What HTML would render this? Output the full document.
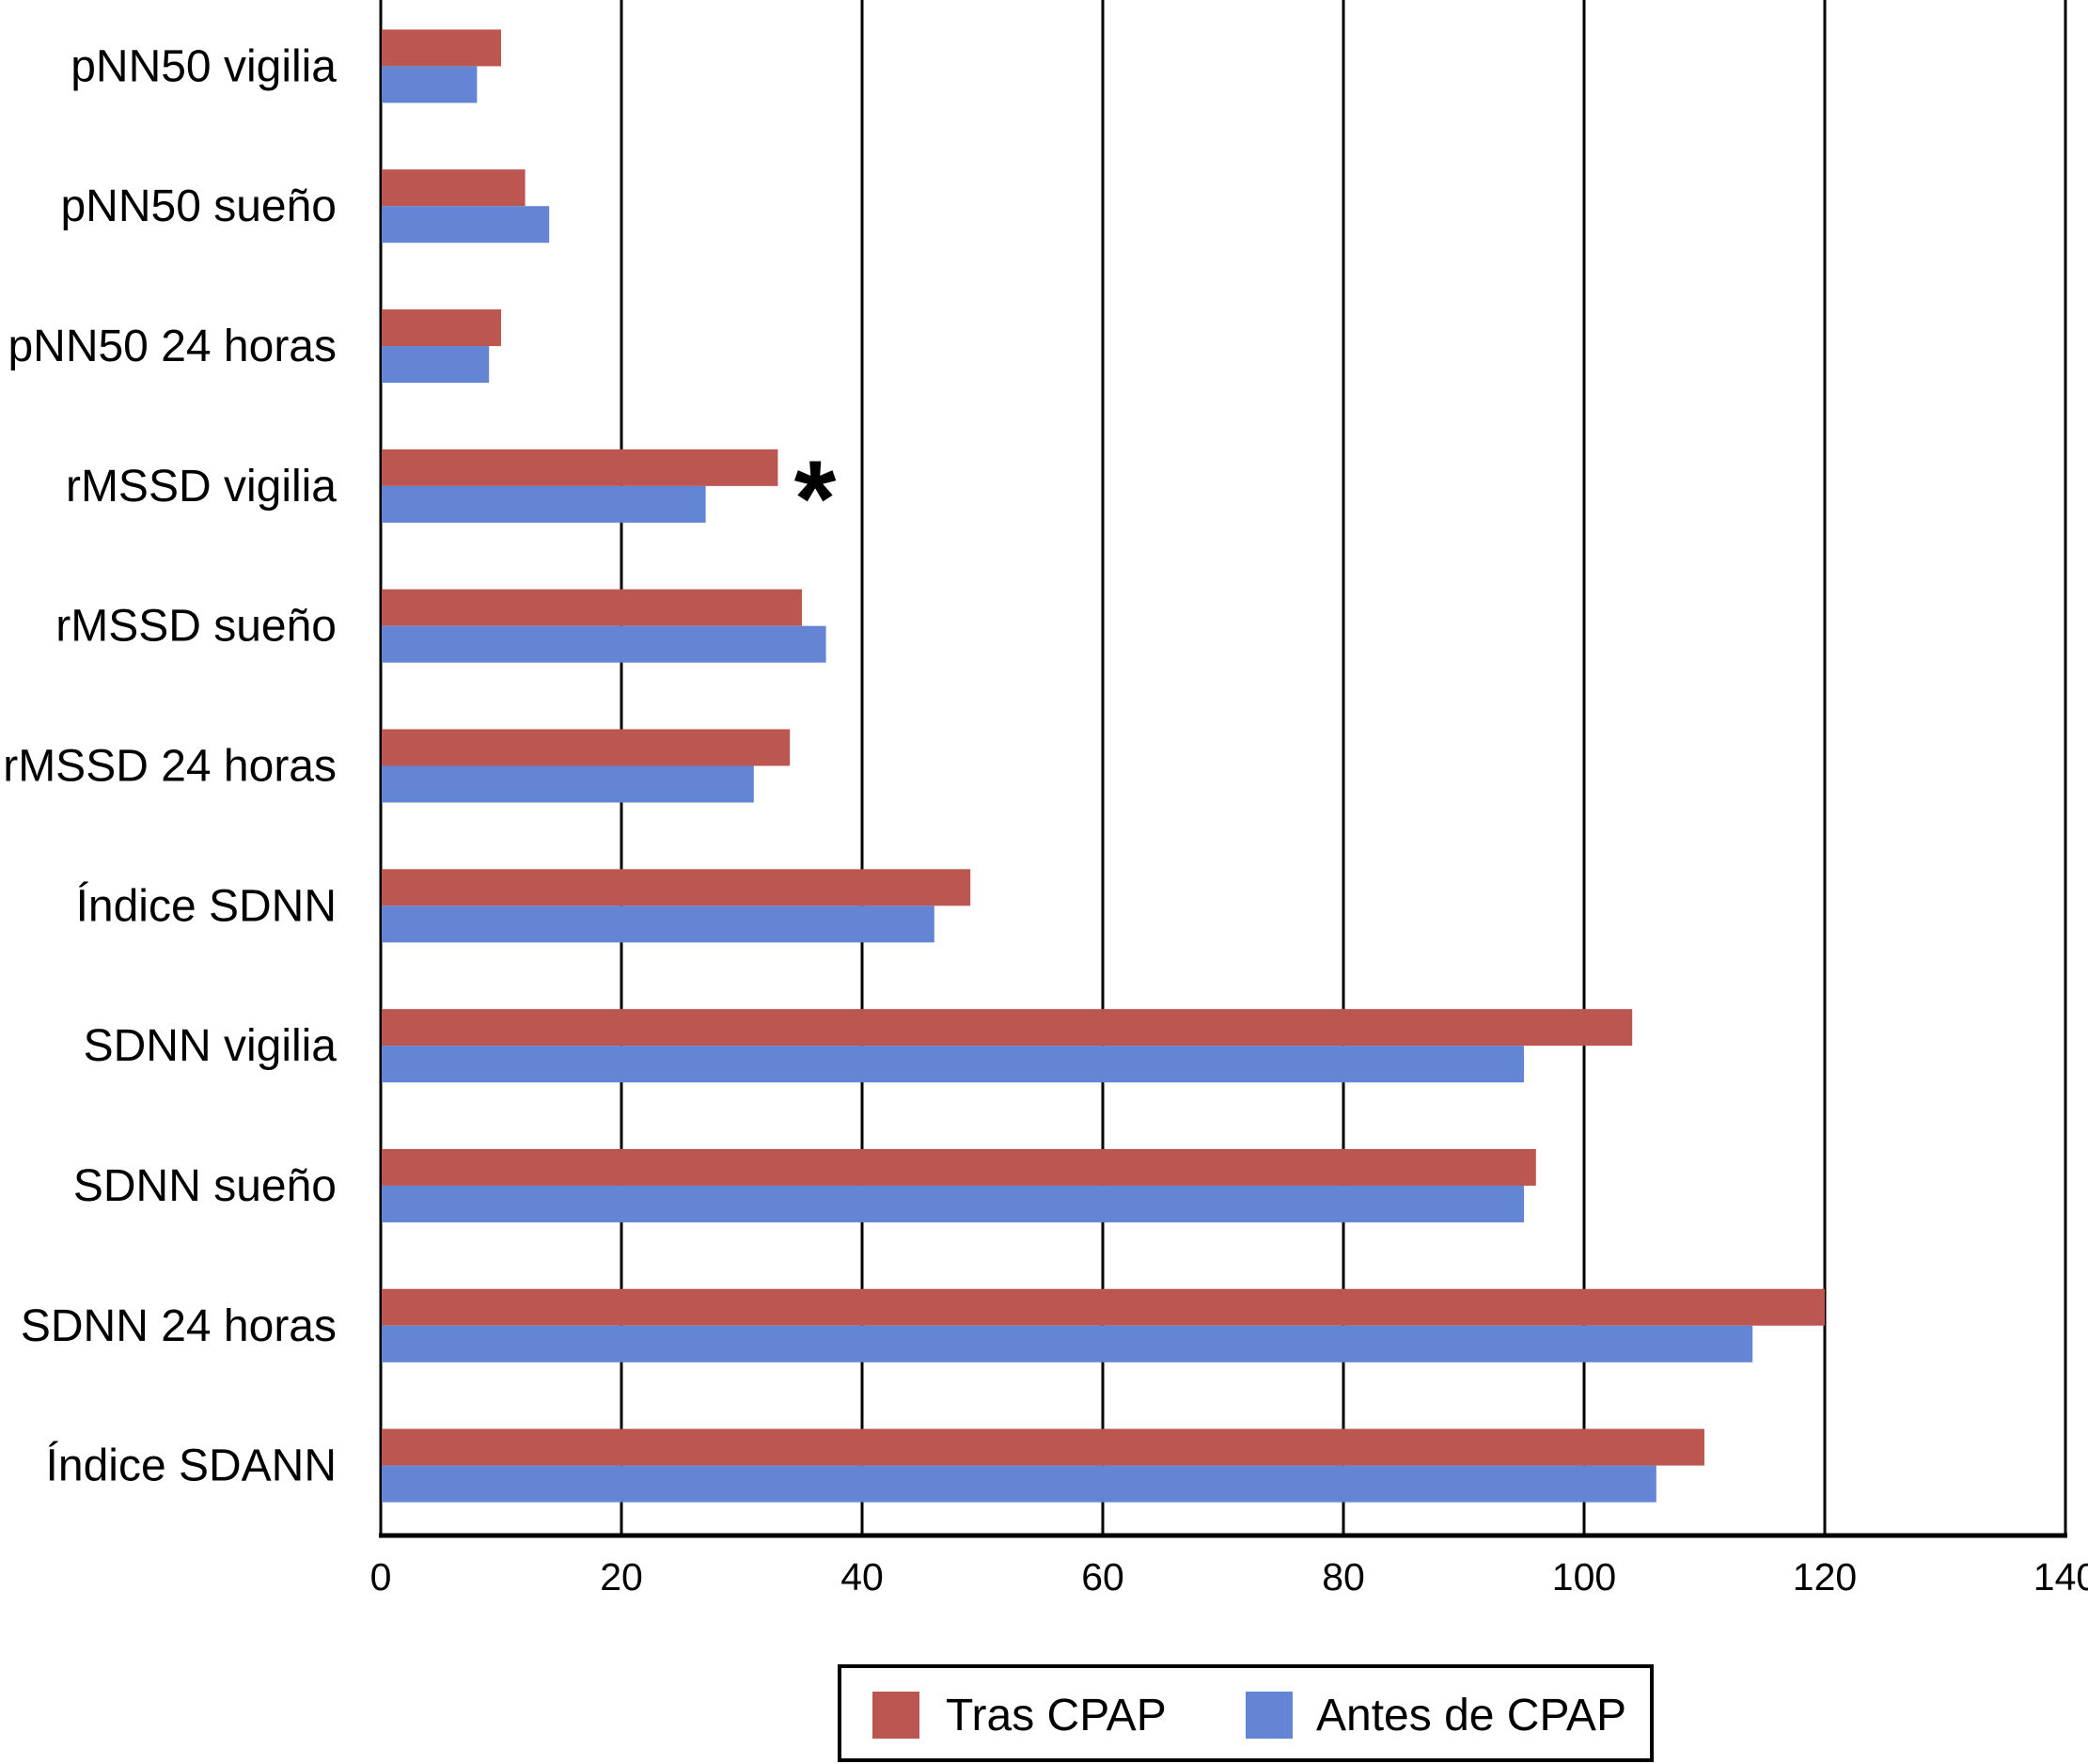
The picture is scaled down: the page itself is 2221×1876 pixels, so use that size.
<!DOCTYPE html>
<html><head><meta charset="utf-8"><style>
html,body{margin:0;padding:0;background:#fff;}
svg{display:block;font-family:"Liberation Sans",Arial,sans-serif;}
</style></head><body>
<svg id="chart" width="2221" height="1876" viewBox="0 0 2221 1876" xmlns="http://www.w3.org/2000/svg">
<g id="grid"></g>
<g id="bars"></g>
<g id="ylabels"></g>
<g id="xlabels"></g>
<text x="867" y="570" font-size="115" font-weight="bold" text-anchor="middle">*</text>
<g>
<rect x="893" y="1772" width="864" height="100" fill="#fff" stroke="#000" stroke-width="4"/>
<rect x="928" y="1799" width="50" height="50" fill="#bc5650"/>
<text x="1006" y="1840" font-size="48">Tras CPAP</text>
<rect x="1325" y="1799" width="50" height="50" fill="#6385d3"/>
<text x="1400" y="1840" font-size="48">Antes de CPAP</text>
</g>
</svg>
<script>
const categories = ["pNN50 vigilia","pNN50 sueño","pNN50 24 horas","rMSSD vigilia","rMSSD sueño","rMSSD 24 horas","Índice SDNN","SDNN vigilia","SDNN sueño","SDNN 24 horas","Índice SDANN"];
const trasCPAP = [10,12,10,33,35,34,49,104,96,120,110];
const antesCPAP = [8,14,9,27,37,31,46,95,95,114,106];
const xTicks = [0,20,40,60,80,100,120,140];

const NS="http://www.w3.org/2000/svg";
const x0=405, x1=2197, xMax=140, plotTop=-4, plotBottom=1633;
const band=(plotBottom-plotTop)/categories.length;
const barH=39;
function xs(v){return x0+(v/xMax)*(x1-x0);}
function yb(i){return plotTop+i*band+band/2;}
function mk(tag,attrs,parent){const e=document.createElementNS(NS,tag);for(const k in attrs)e.setAttribute(k,attrs[k]);parent.appendChild(e);return e;}
const grid=document.getElementById('grid'),bars=document.getElementById('bars'),yl=document.getElementById('ylabels'),xl=document.getElementById('xlabels');
xTicks.forEach(t=>{
  const l=mk('line',{x1:xs(t),x2:xs(t),y1:0,y2:plotBottom,stroke:'#000','stroke-width':3},grid);
  
  
  const tx=mk('text',{x:xs(t),y:1691,'font-size':41,'text-anchor':'middle'},xl);
  tx.textContent=t;
  
  
});
const ax=mk('line',{x1:x0-2,x2:x1+2,y1:plotBottom,y2:plotBottom,stroke:'#000','stroke-width':5},grid);


categories.forEach((c,i)=>{
  const cy=yb(i);
  const r=mk('rect',{x:x0+1,y:cy-barH,width:xs(trasCPAP[i])-x0-1,height:barH,fill:'#bc5650'},bars);
  
  
  const b=mk('rect',{x:x0+1,y:cy,width:xs(antesCPAP[i])-x0-1,height:barH,fill:'#6385d3'},bars);
  
  
  const t=mk('text',{x:358,y:cy+16,'font-size':48,'text-anchor':'end'},yl);
  t.textContent=c;
  
  
});
</script>
</body></html>
